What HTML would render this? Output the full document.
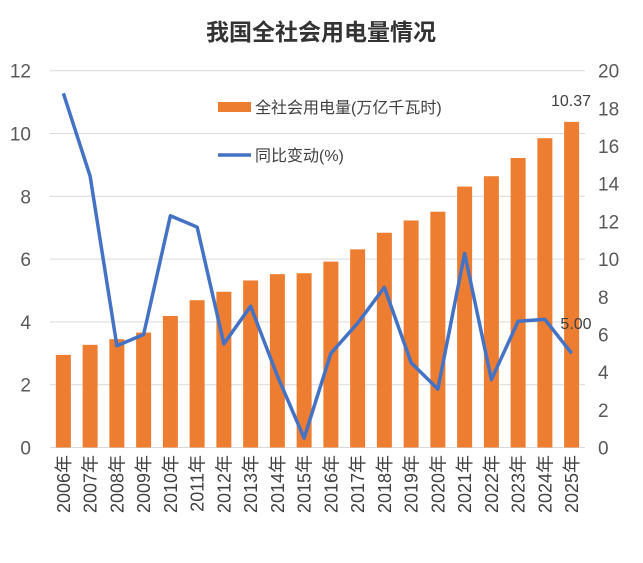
<!DOCTYPE html>
<html><head><meta charset="utf-8"><style>
body{margin:0;background:#fff;width:643px;height:558px;overflow:hidden}
</style></head><body>
<svg width="643" height="558" xmlns="http://www.w3.org/2000/svg" font-family="Liberation Sans, Noto Sans CJK SC, sans-serif">
<rect width="643" height="558" fill="#fff"/>
<text x="321" y="40" text-anchor="middle" font-size="23" font-weight="bold" fill="#333">我国全社会用电量情况</text>
</svg>
<script>
const s=document.querySelector('svg');const ns='http://www.w3.org/2000/svg';
function el(t,a,txt){const e=document.createElementNS(ns,t);for(const k in a)e.setAttribute(k,a[k]);if(txt!==undefined)e.textContent=txt;s.appendChild(e);return e;}
const L=50,R=585,B=447.5,T=70.7;
for(let i=0;i<=6;i++){const y=B-i*(B-T)/6;
 el('line',{x1:L,x2:R,y1:y,y2:y,stroke:'#d9d9d9','stroke-width':1});
 el('text',{x:31,y:y+7,'text-anchor':'end','font-size':19,fill:'#595959'},String(i*2));}
for(let i=0;i<=10;i++){const y=B-i*(B-T)/10;
 el('text',{x:598,y:y+7,'font-size':19,fill:'#595959'},String(i*2));}
const bars=[2.95,3.27,3.45,3.66,4.19,4.69,4.96,5.32,5.52,5.55,5.92,6.31,6.84,7.23,7.51,8.31,8.64,9.22,9.85,10.37];
const line=[18.8,14.4,5.4,6.0,12.3,11.7,5.5,7.5,3.8,0.5,5.0,6.6,8.5,4.5,3.1,10.3,3.6,6.7,6.8,5.0];
const w=(R-L)/20;const ux=(B-T)/12, ur=(B-T)/20;
let pts=[];
bars.forEach((v,i)=>{const cx=L+w*(i+0.5);const h=v*ux;
 el('rect',{x:cx-7.5,y:B-h,width:15,height:h,fill:'#ED7D31'});
 pts.push(cx+','+(B-line[i]*ur));
 el('text',{x:0,y:0,'font-size':18,fill:'#404040','text-anchor':'end',transform:`translate(${cx+6.5},455) rotate(-90)`},(2006+i)+'年');
});
el('polyline',{points:pts.join(' '),fill:'none',stroke:'#4472C4','stroke-width':3.5,'stroke-linejoin':'round'});
el('text',{x:571,y:106,'font-size':16,fill:'#404040','text-anchor':'middle'},'10.37');
el('text',{x:576,y:329,'font-size':16,fill:'#404040','text-anchor':'middle'},'5.00');
el('rect',{x:218,y:102,width:33,height:10,fill:'#ED7D31'});
el('text',{x:255,y:113,'font-size':16,fill:'#404040'},'全社会用电量(万亿千瓦时)');
el('line',{x1:218,x2:251,y1:155,y2:155,stroke:'#4472C4','stroke-width':3.5});
el('text',{x:255,y:161,'font-size':16,fill:'#404040'},'同比变动(%)');
</script>
</body></html>
